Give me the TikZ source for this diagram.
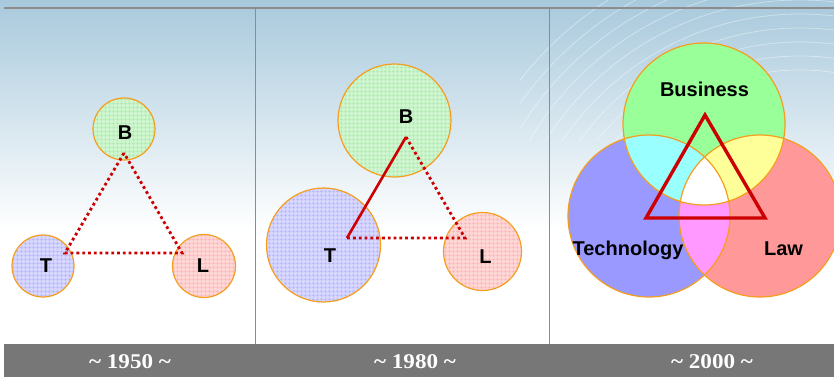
\documentclass[tikz,border=0pt]{standalone}
\usepackage{fontspec}
\setmainfont{Liberation Serif}
\setsansfont{Liberation Sans}
\usetikzlibrary{patterns}

\definecolor{skyblue}{RGB}{168,201,220}
\definecolor{ringorange}{RGB}{245,158,30}
\definecolor{tiered}{RGB}{204,0,0}
\definecolor{bargray}{RGB}{119,119,119}
\definecolor{rulegray}{RGB}{140,140,140}
\definecolor{paleg}{RGB}{206,246,206}
\definecolor{paleb}{RGB}{214,214,255}
\definecolor{paler}{RGB}{255,214,214}
\definecolor{gridg}{RGB}{175,232,175}
\definecolor{gridb}{RGB}{180,180,248}
\definecolor{gridr}{RGB}{248,180,180}
\definecolor{venng}{RGB}{153,255,153}
\definecolor{vennb}{RGB}{153,153,255}
\definecolor{vennr}{RGB}{255,153,153}
\definecolor{vennc}{RGB}{153,255,255}
\definecolor{venny}{RGB}{255,255,153}
\definecolor{vennm}{RGB}{255,153,255}

% a looser grid than the built-in one
\pgfdeclarepatternformonly{meshgrid}{\pgfpointorigin}{\pgfqpoint{4pt}{4pt}}{\pgfqpoint{4pt}{4pt}}{
    \pgfsetlinewidth{0.5pt}
    \pgfpathmoveto{\pgfqpoint{0pt}{2pt}}\pgfpathlineto{\pgfqpoint{4pt}{2pt}}
    \pgfpathmoveto{\pgfqpoint{2pt}{0pt}}\pgfpathlineto{\pgfqpoint{2pt}{4pt}}
    \pgfusepath{stroke}}

\tikzset{
  ring/.style={circle, draw=ringorange, line width=1.2pt, inner sep=0pt},
  bfill/.style={preaction={fill=paleg}, pattern=meshgrid, pattern color=gridg},
  tfill/.style={preaction={fill=paleb}, pattern=meshgrid, pattern color=gridb},
  lfill/.style={preaction={fill=paler}, pattern=meshgrid, pattern color=gridr},
  tie/.style={draw=tiered, line width=2.8pt, dash pattern=on 2.8pt off 3pt},
  link/.style={draw=tiered, line width=2.6pt},
  tri/.style={draw=tiered, line width=3.4pt, line join=miter},
  letter/.style={anchor=base, inner sep=0pt, font=\sffamily\bfseries\fontsize{20}{20}\selectfont},
  yearlbl/.style={anchor=base, inner sep=0pt, text=white, font=\bfseries\fontsize{21}{21}\selectfont}
}

\begin{document}
\begin{tikzpicture}[x=1pt, y=-1pt]
    \useasboundingbox (0,0) rectangle (834,377);

    % backdrop
    \shade[top color=skyblue, bottom color=white] (0,0) rectangle (834,230);
    \begin{scope}
        \clip (520,0) rectangle (834,140);
        \foreach \r in {230,244,258,272,286,300,314,328,342,356}
            \draw[white, opacity=0.4, line width=0.8pt] (800,300) circle[radius=\r pt];
    \end{scope}
    \draw[rulegray, line width=1.2pt] (4,8) -- (834,8);
    \draw[rulegray, line width=0.6pt] (255,8) -- (255,344);
    \draw[rulegray, line width=0.6pt] (549,8) -- (549,344);
    \fill[bargray] (4,344) rectangle (834,377);

    % ~ 1950 ~
    \node[ring, bfill, minimum size=62pt] (b1) at (124,129) {};
    \node[ring, tfill, minimum size=62pt] (t1) at (43,266) {};
    \node[ring, lfill, minimum size=63pt] (l1) at (204,266) {};
    \coordinate (b1v) at (124,153);
    \coordinate (t1v) at (65,253);
    \coordinate (l1v) at (182,253);
    \draw[tie] (b1v) -- (t1v) -- (l1v) -- cycle;
    \node[letter] (b1txt) at (125,139) {B};
    \node[letter] (t1txt) at (46,272) {T};
    \node[letter] (l1txt) at (203,272) {L};

    % ~ 1980 ~
    \node[ring, bfill, minimum size=113pt] (b2) at (394.5,120.5) {};
    \node[ring, tfill, minimum size=114pt] (t2) at (323.5,245) {};
    \node[ring, lfill, minimum size=78pt] (l2) at (482.5,251.5) {};
    \coordinate (b2v) at (406,137);
    \coordinate (t2v) at (347,238);
    \coordinate (l2v) at (465,238);
    \draw[tie] (b2v) -- (l2v) -- (t2v);
    \draw[link] (b2v) -- (t2v);
    \node[letter] (b2txt) at (406,123) {B};
    \node[letter] (t2txt) at (330,262) {T};
    \node[letter] (l2txt) at (485.5,263) {L};

    % ~ 2000 ~
    \coordinate (cb) at (704,124);
    \coordinate (ct) at (649,216);
    \coordinate (cl) at (760,216);
    \fill[venng] (cb) circle[radius=81pt];
    \fill[vennb] (ct) circle[radius=81pt];
    \fill[vennr] (cl) circle[radius=81pt];
    \begin{scope}
        \clip (cb) circle[radius=81pt];
        \fill[vennc] (ct) circle[radius=81pt];
        \fill[venny] (cl) circle[radius=81pt];
        \clip (ct) circle[radius=81pt];
        \fill[white] (cl) circle[radius=81pt];
    \end{scope}
    \begin{scope}
        \clip (ct) circle[radius=81pt];
        \clip (cl) circle[radius=81pt];
        \fill[vennm, even odd rule] (cb) circle[radius=81pt] (500,0) rectangle (834,377);
    \end{scope}
    \foreach \c in {cb,ct,cl}
        \draw[ringorange, line width=1.2pt] (\c) circle[radius=81pt];
    \coordinate (v3b) at (705,115);
    \coordinate (v3t) at (646,218);
    \coordinate (v3l) at (765,218);
    \draw[tri] (v3b) -- (v3t) -- (v3l) -- cycle;
    \node[letter] (busi) at (704.5,96) {Business};
    \node[letter] (tech) at (628,255) {Technology};
    \node[letter] (law) at (783.5,255) {Law};

    % years
    \node[yearlbl] (y1950) at (130,368) {\scalebox{1.1}[1]{\textasciitilde\ 1950 \textasciitilde}};
    \node[yearlbl] (y1980) at (415,368) {\scalebox{1.1}[1]{\textasciitilde\ 1980 \textasciitilde}};
    \node[yearlbl] (y2000) at (712,368) {\scalebox{1.1}[1]{\textasciitilde\ 2000 \textasciitilde}};
\end{tikzpicture}
\end{document}
